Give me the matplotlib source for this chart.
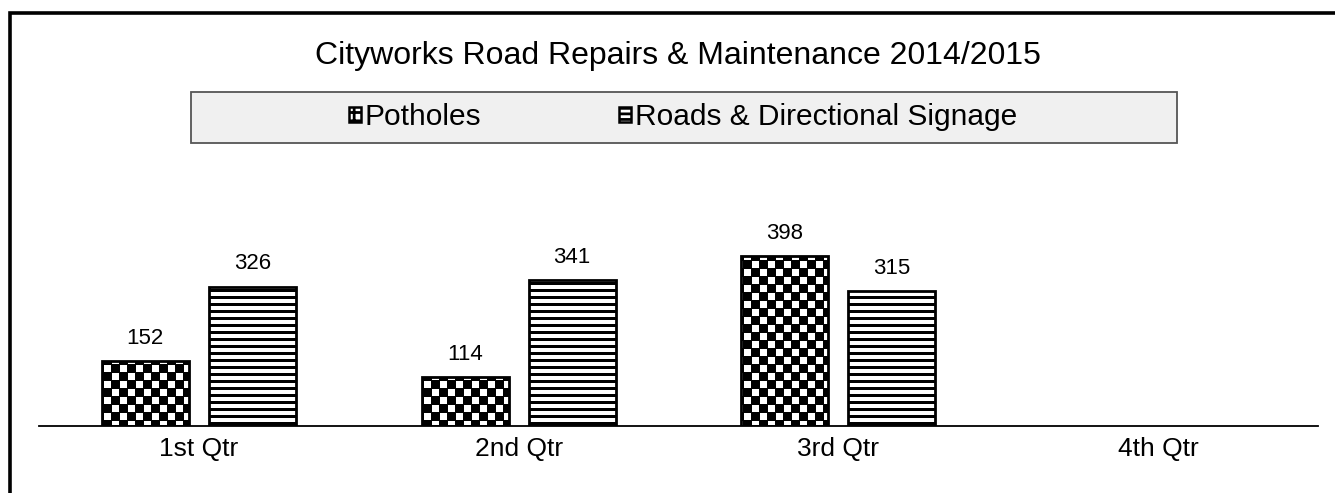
import numpy as np
import matplotlib
matplotlib.use("Agg")
from matplotlib import pyplot as plt
from matplotlib.patches import Rectangle, Patch

plt.rcParams['font.family'] = ['Liberation Sans', 'DejaVu Sans']
plt.rcParams['hatch.linewidth'] = 2.0

# data
quarters = ['1st Qtr', '2nd Qtr', '3rd Qtr', '4th Qtr']
potholes = [152, 114, 398, None]
signage = [326, 341, 315, None]
series_names = ['Potholes', 'Roads & Directional Signage']
title = 'Cityworks Road Repairs & Maintenance 2014/2015'

W, H = 1335, 493
fig = plt.figure(figsize=(W / 100, H / 100), dpi=100)

# outer frame (runs off the right / bottom edge)
fig.patches.append(Rectangle((9.5 / W, -0.1), 1.2, (H - 13) / H + 0.1,
                             transform=fig.transFigure, fill=False,
                             edgecolor='black', linewidth=2.6, zorder=0))

ax = fig.add_axes([39 / W, 67 / H, 1279 / W, 213.5 / H])
ax.set_xlim(-0.5, 3.5)
ax.set_ylim(0, 500)
for s in ['top', 'right', 'left']:
    ax.spines[s].set_visible(False)
ax.spines['bottom'].set_linewidth(1.3)
ax.set_yticks([])
x = np.arange(len(quarters))
ax.set_xticks(x)
ax.set_xticklabels(quarters, fontsize=19)
ax.tick_params(axis='x', length=0, pad=8)

bw = 0.272
off = 0.1675

# pattern images in pixel space of the axes
ax_w, ax_h = 1279, 214
cell = 8
yy, xx = np.mgrid[0:ax_h, 0:ax_w]
checker = (((xx // cell) + (yy // cell)) % 2).astype(float)
# slightly heavier black, like the print-style pattern
checker[(xx % cell == 0) | (yy % cell == 0)] = 0
stripes = 1 - ((yy % 7) < 3).astype(float)  # 0 -> black

def fill_bars(bars, pattern):
    for b in bars:
        if np.isnan(b.get_height()) or b.get_height() == 0:
            continue
        im = ax.imshow(pattern, cmap='gray', vmin=0, vmax=1, origin='upper',
                       extent=[-0.5, 3.5, 0, 500], aspect='auto',
                       interpolation='nearest', zorder=2)
        im.set_clip_path(b)

def vals(v):
    return [np.nan if a is None else a for a in v]

b1 = ax.bar(x - off, vals(potholes), bw, edgecolor='black',
            linewidth=2.0, zorder=3, fill=False)
b2 = ax.bar(x + off, vals(signage), bw, edgecolor='black',
            linewidth=2.0, zorder=3, fill=False)
fill_bars(b1, checker)
fill_bars(b2, stripes)
ax.set_xlim(-0.5, 3.5)
ax.set_ylim(0, 500)

for bars, v in [(b1, potholes), (b2, signage)]:
    for b, val in zip(bars, v):
        if val is None:
            continue
        ax.annotate(str(val), (b.get_x() + b.get_width() / 2, val),
                    xytext=(0, 9), textcoords='offset points',
                    ha='center', va='bottom', fontsize=16)

fig.text(678 / W, 1 - 56 / H, title, ha='center', va='center', fontsize=23)

# legend box
fig.patches.append(Rectangle((191 / W, 1 - 143 / H), (1177 - 191) / W, 51 / H,
                             transform=fig.transFigure, facecolor='#f0f0f0',
                             edgecolor='#555555', linewidth=1.3, zorder=1))
handles = [Patch(facecolor='white', edgecolor='black', hatch='++', linewidth=1.8),
           Patch(facecolor='white', edgecolor='black', hatch='---', linewidth=1.8)]
fig.legend(handles, series_names, loc='center', bbox_to_anchor=(683 / W, 1 - 117 / H),
           ncol=2, frameon=False, fontsize=21.5, handlelength=0.42, handleheight=0.42,
           handletextpad=0.12, columnspacing=4.6)

fig.savefig('out.png', dpi=100)
